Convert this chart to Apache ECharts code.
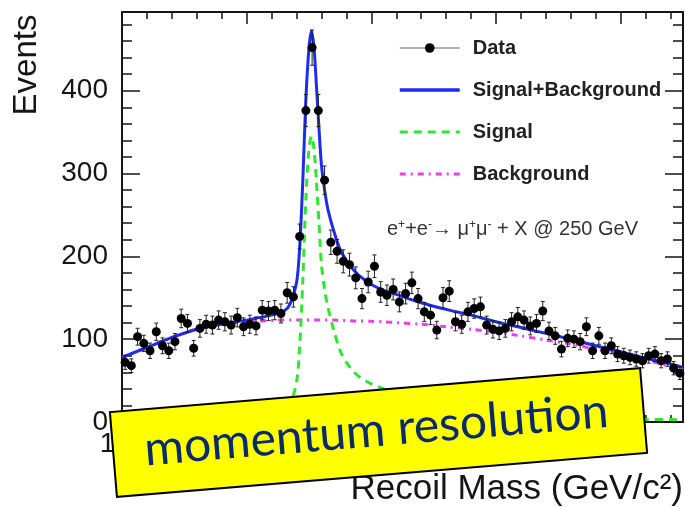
<!DOCTYPE html>
<html>
<head>
<meta charset="utf-8">
<title>Recoil Mass</title>
<script src="https://cdn.jsdelivr.net/npm/echarts@6/dist/echarts.min.js"></script>
<style>
  html, body { margin: 0; padding: 0; background: #fff; }
  #chart { width: 685px; height: 507px; }
</style>
</head>
<body>
<div id="chart"></div>
<script>
// histogram: bin centres (GeV) and events per bin
const massBins = [
  110.25, 110.75, 111.25, 111.75, 112.25, 112.75, 113.25, 113.75, 114.25, 114.75,
  115.25, 115.75, 116.25, 116.75, 117.25, 117.75, 118.25, 118.75, 119.25, 119.75,
  120.25, 120.75, 121.25, 121.75, 122.25, 122.75, 123.25, 123.75, 124.25, 124.75,
  125.25, 125.75, 126.25, 126.75, 127.25, 127.75, 128.25, 128.75, 129.25, 129.75,
  130.25, 130.75, 131.25, 131.75, 132.25, 132.75, 133.25, 133.75, 134.25, 134.75,
  135.25, 135.75, 136.25, 136.75, 137.25, 137.75, 138.25, 138.75, 139.25, 139.75,
  140.25, 140.75, 141.25, 141.75, 142.25, 142.75, 143.25, 143.75, 144.25, 144.75,
  145.25, 145.75, 146.25, 146.75, 147.25, 147.75, 148.25, 148.75, 149.25, 149.75,
  150.25, 150.75, 151.25, 151.75, 152.25, 152.75, 153.25, 153.75, 154.25, 154.75
]
const events = [
  72, 68, 103, 95, 86, 109, 92, 86, 97, 125,
  119, 89, 113, 118, 117, 123, 121, 117, 126, 115,
  118, 116, 135, 134, 135, 131, 156, 151, 224, 376,
  452, 376, 292, 217, 206, 194, 190, 174, 149, 169,
  188, 157, 153, 160, 145, 155, 168, 149, 133, 129,
  111, 150, 158, 121, 118, 133, 137, 139, 117, 112,
  110, 113, 121, 127, 123, 116, 119, 134, 110, 104,
  88, 101, 100, 97, 115, 86, 104, 86, 92, 82,
  80, 78, 76, 74, 80, 82, 74, 76, 65, 59
]

// fit curves at these masses
const curveMass = [110, 112, 114, 116, 118, 120, 121, 122, 123, 123.5,
  124, 124.25, 124.5, 124.75, 125, 125.2, 125.4, 125.6, 125.8, 126,
  126.25, 126.5, 127, 127.5, 128, 128.5, 129, 130, 131, 132,
  134, 136, 138, 140, 142, 144, 146, 148, 150, 152, 154, 155]
const fitTotal = [78, 90, 102, 112, 118, 123, 126, 129, 134, 143,
  168, 210, 290, 390, 452, 472, 452, 405, 355, 310,
  280, 258, 230, 208, 195, 185, 177, 166, 159, 154,
  144, 136, 129, 121, 114, 107, 100, 92, 85, 77, 70, 66]
const fitSignal = [0, 1, 1, 1, 2, 3, 4, 6, 12, 22,
  48, 90, 170, 270, 330, 345, 330, 290, 240, 190,
  160, 140, 110, 86, 72, 62, 55, 46, 40, 35,
  27, 21, 16, 13, 10, 8, 6, 5, 4, 3, 3, 2]
const fitBackground = [78, 90, 102, 112, 118, 121, 122, 122.5, 123, 123,
  123, 123, 123, 123, 123, 123, 123, 123, 123, 123,
  123, 123, 123, 122.5, 122.5, 122, 122, 121.5, 121, 120,
  118, 115, 112, 108, 104, 99, 94, 88, 82, 75, 67, 63]

// tick labels
const xTickLabels = [110, 120, 130, 140, 150]
const yTickLabels = [0, 100, 200, 300, 400]

const FONT = '"Liberation Sans", Arial, Helvetica, sans-serif'
const INK = '#151515'

const chart = echarts.init(document.getElementById('chart'))

const zip = (xs, ys) => xs.map((x, i) => [x, ys[i]])

// common axis pieces
const frameLine = { show: true, onZero: false, lineStyle: { color: INK, width: 2 } }
const noLine = { show: false, onZero: false }
const xAxisBase = { type: 'value', min: 110, max: 155, splitLine: { show: false } }
const yAxisBase = { type: 'value', min: 0, max: 495, splitLine: { show: false } }
const tick = len => ({ show: true, inside: true, length: len, lineStyle: { color: INK, width: 1.5 } })

const option = {
    animation: false,
    backgroundColor: '#fff',
    grid: {
        left: 122,
        right: 2,
        top: 12,
        bottom: 85,
        containLabel: false,
        outerBoundsMode: 'none'
    },
    xAxis: [
        {
            ...xAxisBase,
            position: 'bottom',
            interval: 10,
            axisLine: frameLine,
            axisTick: tick(12),
            axisLabel: {
                margin: 8,
                fontSize: 28,
                fontFamily: FONT,
                color: INK,
                formatter: v => (xTickLabels.includes(v) ? String(v) : '')
            }
        },
        { ...xAxisBase, position: 'bottom', interval: 2, axisLine: noLine, axisTick: tick(7), axisLabel: { show: false } },
        { ...xAxisBase, position: 'top', interval: 10, axisLine: frameLine, axisTick: tick(12), axisLabel: { show: false } },
        { ...xAxisBase, position: 'top', interval: 2, axisLine: noLine, axisTick: tick(7), axisLabel: { show: false } }
    ],
    yAxis: [
        {
            ...yAxisBase,
            position: 'left',
            interval: 100,
            axisLine: frameLine,
            axisTick: tick(18),
            axisLabel: {
                margin: 14,
                fontSize: 28,
                fontFamily: FONT,
                color: INK,
                formatter: v => (yTickLabels.includes(v) ? String(v) : '')
            }
        },
        { ...yAxisBase, position: 'left', interval: 20, axisLine: noLine, axisTick: tick(10), axisLabel: { show: false } },
        { ...yAxisBase, position: 'right', interval: 100, axisLine: frameLine, axisTick: tick(18), axisLabel: { show: false } },
        { ...yAxisBase, position: 'right', interval: 20, axisLine: noLine, axisTick: tick(10), axisLabel: { show: false } }
    ],
    legend: {
        orient: 'vertical',
        left: 393,
        top: 33,
        itemWidth: 60,
        itemHeight: 12,
        itemGap: 22,
        selectedMode: false,
        textStyle: {
            fontFamily: FONT,
            fontSize: 20,
            fontWeight: 'bold',
            color: '#222',
            padding: [0, 0, 0, 8]
        },
        data: [
            {
                name: 'Data',
                lineStyle: { color: '#9a9a9a', width: 1.5, opacity: 1, type: 'solid' },
                itemStyle: { color: '#000' }
            },
            {
                name: 'Signal+Background',
                lineStyle: { width: 3.5 },
                itemStyle: { opacity: 0 }
            },
            {
                name: 'Signal',
                lineStyle: { width: 3 },
                itemStyle: { opacity: 0 }
            },
            {
                name: 'Background',
                lineStyle: { width: 3 },
                itemStyle: { opacity: 0 }
            }
        ]
    },
    series: [
        {
            name: 'Background',
            type: 'line',
            data: zip(curveMass, fitBackground),
            smooth: 0.3,
            symbol: 'none',
            lineStyle: { color: '#f03cf0', width: 3, type: [6, 5, 2, 5] },
            itemStyle: { color: '#f03cf0' },
            z: 2
        },
        {
            name: 'Signal',
            type: 'line',
            data: zip(curveMass, fitSignal),
            smooth: 0.3,
            symbol: 'none',
            lineStyle: { color: '#2ee82e', width: 3, type: [8, 6] },
            itemStyle: { color: '#2ee82e' },
            z: 3
        },
        {
            name: 'Signal+Background',
            type: 'line',
            data: zip(curveMass, fitTotal),
            smooth: 0.3,
            symbol: 'none',
            lineStyle: { color: '#1e2cf0', width: 3 },
            itemStyle: { color: '#1e2cf0' },
            z: 4
        },
        {
            // Poisson error bars on the counts
            name: 'errors',
            type: 'custom',
            data: massBins.map((m, i) => [m, events[i], Math.sqrt(events[i])]),
            renderItem: (params, api) => {
                const x = api.value(0)
                const y = api.value(1)
                const e = api.value(2)
                const hi = api.coord([x, y + e])
                const lo = api.coord([x, y - e])
                const st = { stroke: '#222', lineWidth: 1 }
                return {
                    type: 'group',
                    children: [
                        { type: 'line', shape: { x1: hi[0], y1: hi[1], x2: lo[0], y2: lo[1] }, style: st },
                        { type: 'line', shape: { x1: hi[0] - 2, y1: hi[1], x2: hi[0] + 2, y2: hi[1] }, style: st },
                        { type: 'line', shape: { x1: lo[0] - 2, y1: lo[1], x2: lo[0] + 2, y2: lo[1] }, style: st }
                    ]
                }
            },
            z: 5
        },
        {
            name: 'Data',
            type: 'line',
            data: zip(massBins, events),
            symbol: 'circle',
            symbolSize: 9,
            showAllSymbol: true,
            lineStyle: { opacity: 0 },
            itemStyle: { color: '#000' },
            z: 6
        }
    ],
    graphic: [
        {
            type: 'text',
            x: 27,
            y: 65,
            rotation: Math.PI / 2,
            style: {
                text: 'Events',
                fontFamily: FONT,
                fontSize: 33,
                fill: INK,
                align: 'center',
                verticalAlign: 'middle'
            }
        },
        {
            type: 'text',
            x: 683,
            y: 489,
            style: {
                text: 'Recoil Mass (GeV/c²)',
                fontFamily: FONT,
                fontSize: 35,
                fill: INK,
                align: 'right',
                verticalAlign: 'middle'
            }
        },
        {
            type: 'text',
            x: 387,
            y: 229,
            style: {
                text: '{n|e}{s|+}{n|+e}{s|-}{n|→ μ}{s|+}{n|μ}{s|-}{n| + X @ 250 GeV}',
                align: 'left',
                verticalAlign: 'middle',
                rich: {
                    n: { fontFamily: FONT, fontSize: 20, fill: '#333' },
                    s: { fontFamily: FONT, fontSize: 12, fill: '#333', verticalAlign: 'top' }
                }
            }
        },
        {
            // yellow note pasted over the plot
            type: 'group',
            x: 378.5,
            y: 432.5,
            rotation: 0.083,
            z: 100,
            children: [
                {
                    type: 'rect',
                    z: 100,
                    shape: { x: -266, y: -42.5, width: 532, height: 85 },
                    style: { fill: '#ffff00', stroke: '#000', lineWidth: 2 }
                },
                {
                    type: 'text',
                    z: 101,
                    x: -2,
                    y: -2,
                    style: {
                        text: 'momentum resolution',
                        fontFamily: 'Lato, "Open Sans", sans-serif',
                        fontSize: 48,
                        fill: '#0b2a6b',
                        align: 'center',
                        verticalAlign: 'middle'
                    }
                }
            ]
        }
    ]
}

chart.setOption(option)
</script>
</body>
</html>
